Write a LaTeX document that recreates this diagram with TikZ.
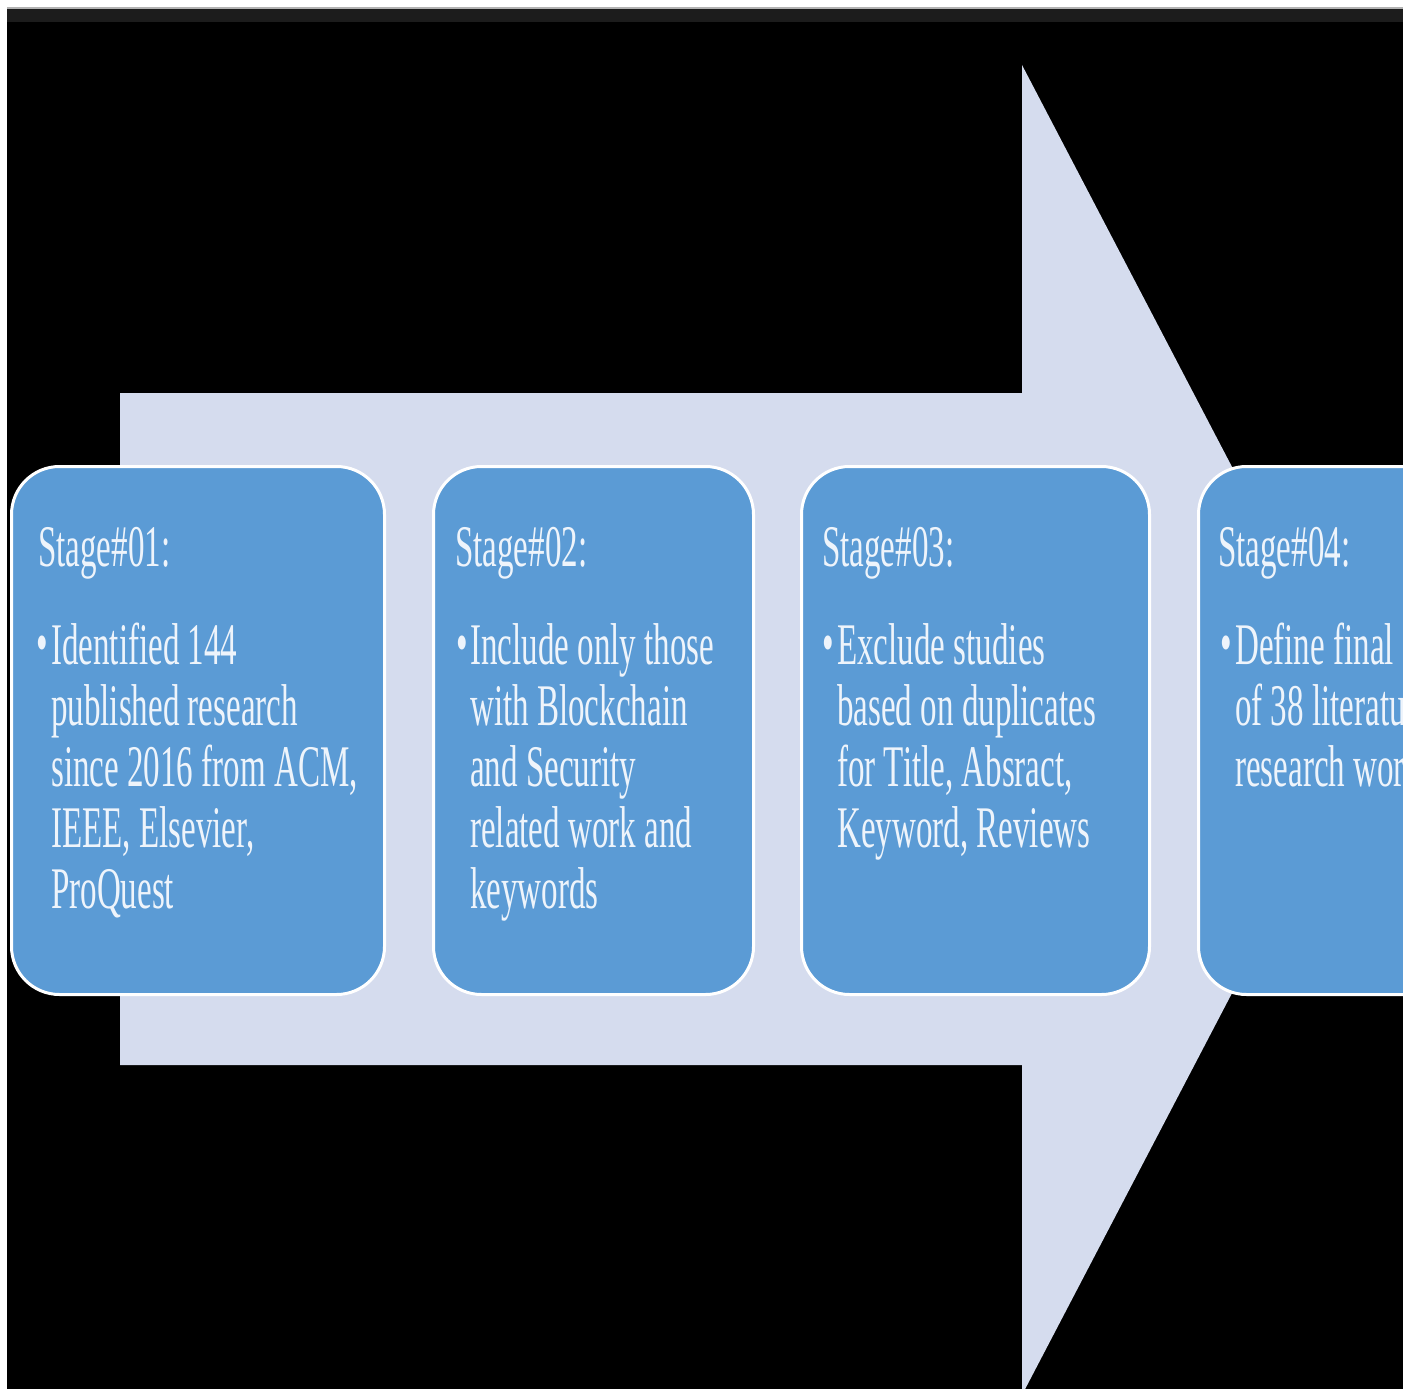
\documentclass[tikz,border=0pt]{standalone}
\usepackage{fontspec}
\newfontfamily\cond[FakeStretch=0.56]{Liberation Serif}
\definecolor{arrowfill}{HTML}{D5DCEE}
\definecolor{boxfill}{HTML}{5B9BD5}
\definecolor{txtcol}{HTML}{EEF4FB}
\definecolor{bandgray}{HTML}{1C1C1C}
\tikzset{
  stagebox/.style={draw=white, line width=3pt, fill=boxfill, rounded corners=48pt,
    anchor=north west, inner sep=0pt, minimum height=528pt, minimum width=#1},
  stagetext/.style={anchor=base west, inner sep=0pt, text=txtcol,
    font=\cond\fontsize{59}{61}\selectfont},
}
\newcommand{\lines}[1]{\begin{tabular}[t]{@{}l@{}}#1\end{tabular}}
\begin{document}
\begin{tikzpicture}[x=1pt,y=-1pt]
  \useasboundingbox (0,0) rectangle (1403,1389);
  \clip (0,0) rectangle (1403,1389);
  % background
  \fill[black] (0,0) rectangle (1403,1389);
  % big arrow
  \fill[arrowfill] (120,393) -- (1022,393) -- (1022,65) -- (1369.5,730)
    -- (1022,1395) -- (1022,1065) -- (120,1065) -- cycle;
  % stage boxes
  \node[stagebox=373pt] (s1) at (10,465) {};
  \node[stagebox=320pt] (s2) at (432,465) {};
  \node[stagebox=348pt] (s3) at (800,465) {};
  \node[stagebox=330pt] (s4) at (1197,465) {};
  % titles
  \node[stagetext] (t1) at (38,566) {Stage\#01:};
  \node[stagetext] (t2) at (455,566) {Stage\#02:};
  \node[stagetext] (t3) at (822,566) {Stage\#03:};
  \node[stagetext] (t4) at (1218,566) {Stage\#04:};
  % bullets
  \node[stagetext] (m1) at (36,662) {\textbullet};
  \node[stagetext] (m2) at (456,662) {\textbullet};
  \node[stagetext] (m3) at (822,662) {\textbullet};
  \node[stagetext] (m4) at (1220,662) {\textbullet};
  % bodies
  \node[stagetext] (b1) at (51,664) {\lines{Identified 144\\published research\\since 2016 from ACM,\\IEEE, Elsevier,\\ProQuest}};
  \node[stagetext] (b2) at (470,664) {\lines{Include only those\\with Blockchain\\and Security\\related work and\\keywords}};
  \node[stagetext] (b3) at (837,664) {\lines{Exclude studies\\based on duplicates\\for Title, Absract,\\Keyword, Reviews}};
  \node[stagetext] (b4) at (1235,664) {\lines{Define final set\\of 38 literature\\research work}};
  % frame strips
  \fill[white] (0,0) rectangle (1403,7);
  \fill[white] (0,0) rectangle (7,1389);
  \fill[gray!60] (7,7) rectangle (1403,9);
  \fill[bandgray] (7,9) rectangle (1403,22);
\end{tikzpicture}
\end{document}
